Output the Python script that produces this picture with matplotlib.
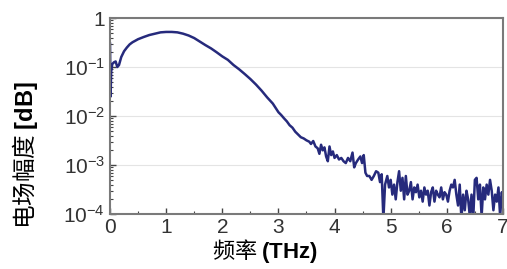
import numpy as np
import matplotlib
matplotlib.use("Agg")
import matplotlib.pyplot as plt
from matplotlib.ticker import FixedLocator, FuncFormatter, LogLocator, NullFormatter

plt.rcParams['font.family'] = ['Liberation Sans', 'Noto Sans CJK SC', 'DejaVu Sans']
plt.rcParams['mathtext.fontset'] = 'custom'
plt.rcParams['mathtext.rm'] = 'Liberation Sans'
plt.rcParams['mathtext.bf'] = 'Liberation Sans:bold'
plt.rcParams['mathtext.default'] = 'regular'

# spectrum (THz, field amplitude)
freq = [0.00, 0.01, 0.02, 0.04, 0.07, 0.10, 0.13, 0.16, 0.20, 0.25, 0.30, 0.35, 0.40,
        0.50, 0.60, 0.70, 0.80, 0.90, 1.00, 1.10, 1.20, 1.30, 1.40, 1.50, 1.60, 1.70,
        1.80, 1.90, 2.00, 2.10, 2.20, 2.30, 2.40, 2.50, 2.60, 2.70, 2.80, 2.90, 3.00,
        3.05, 3.10, 3.15, 3.20, 3.25, 3.30, 3.35, 3.40, 3.45, 3.50, 3.55, 3.58, 3.62,
        3.66, 3.70, 3.73, 3.76, 3.79, 3.82, 3.85, 3.88, 3.91, 3.94, 3.97, 4.00, 4.04,
        4.08, 4.12, 4.16, 4.20, 4.24, 4.28, 4.32, 4.35, 4.38, 4.42, 4.46, 4.49, 4.52,
        4.55, 4.58, 4.62, 4.66, 4.70, 4.74, 4.78, 4.81, 4.84, 4.87, 4.90, 4.94, 4.97,
        5.00, 5.03, 5.06, 5.09, 5.12, 5.15, 5.18, 5.21, 5.24, 5.27, 5.30, 5.33, 5.36,
        5.39, 5.42, 5.45, 5.48, 5.51, 5.54, 5.57, 5.60, 5.63, 5.66, 5.69, 5.72, 5.75,
        5.78, 5.81, 5.84, 5.87, 5.90, 5.93, 5.96, 5.99, 6.02, 6.05, 6.08, 6.11, 6.14,
        6.17, 6.20, 6.23, 6.26, 6.29, 6.32, 6.35, 6.38, 6.41, 6.44, 6.47, 6.50, 6.53,
        6.56, 6.59, 6.62, 6.65, 6.68, 6.71, 6.74, 6.77, 6.80, 6.83, 6.86, 6.89, 6.92,
        6.95, 6.98, 7.00]
amp = [0.30, 0.025, 0.08, 0.115, 0.125, 0.13, 0.10, 0.11, 0.16, 0.21, 0.25, 0.29, 0.32,
       0.37, 0.41, 0.45, 0.48, 0.51, 0.52, 0.52, 0.51, 0.48, 0.44, 0.39, 0.33, 0.28,
       0.24, 0.20, 0.165, 0.14, 0.11, 0.09, 0.072, 0.057, 0.044, 0.033, 0.024, 0.018, 0.012,
       0.0105, 0.0090, 0.0078, 0.0065, 0.0058, 0.0048, 0.0042, 0.0037, 0.0035, 0.0032, 0.0030, 0.0027, 0.0031,
       0.0024, 0.0022, 0.0017, 0.0026, 0.0020, 0.0023, 0.0015, 0.0012, 0.0024, 0.0016, 0.0019, 0.0014, 0.0016,
       0.0013, 0.0014, 0.0012, 0.0011, 0.0014, 0.0012, 0.0018, 0.0009, 0.0011, 0.0013, 0.0015, 0.0011, 0.0016,
       0.0007, 0.0006, 0.0006, 0.0005, 0.0006, 0.00075, 0.0007, 0.00045, 0.00065, 0.00008, 0.0004, 0.0006, 0.00035,
       0.0005, 0.00025, 0.0004, 0.0002, 0.00045, 0.00075, 0.0003, 0.00055, 0.0002, 0.0006, 0.00025, 0.0003, 0.00045,
       0.0002, 0.00035, 0.00028, 0.0004, 0.00022, 0.0003, 0.00018, 0.00035, 0.00025, 0.0003, 0.00015, 0.00028, 0.00035,
       0.00018, 0.0003, 0.00025, 0.00022, 0.00035, 0.0002, 0.00028, 0.00025, 0.00018, 0.0003, 0.0004, 0.00035, 0.0005,
       0.00025, 0.00015, 0.0004, 0.00008, 0.00025, 0.00012, 0.0003, 0.0002, 0.00009, 0.00025, 0.00008, 0.0005, 0.00055,
       0.0002, 0.0004, 0.00009, 0.00035, 0.0002, 0.0004, 0.00025, 0.0005, 0.0003, 0.00012, 0.00025, 0.00018, 0.00035,
       0.00009, 0.00028, 0.0002]

xticks = [0, 1, 2, 3, 4, 5, 6, 7]
yticks = [1e-4, 1e-3, 1e-2, 1e-1, 1]

fig = plt.figure(figsize=(5.07, 2.69), dpi=100)
ax = fig.add_axes([0.217, 0.204, 0.775, 0.729])

ax.plot(freq, amp, color='#262a7c', lw=1.8)

ax.set_yscale('log')
ax.set_xlim(0, 7)
ax.set_ylim(1e-4, 1)

ax.xaxis.set_major_locator(FixedLocator(xticks))
ax.xaxis.set_minor_locator(FixedLocator([0.5, 1.5, 2.5, 3.5, 4.5, 5.5, 6.5]))
ax.yaxis.set_major_locator(FixedLocator(yticks))
ax.yaxis.set_minor_locator(LogLocator(base=10, subs=np.arange(2, 10)))
ax.yaxis.set_minor_formatter(NullFormatter())


def fmt(v, pos):
    if v >= 1:
        return '1'
    return r'$10^{%d}$' % int(round(np.log10(v)))


ax.yaxis.set_major_formatter(FuncFormatter(fmt))

ax.grid(axis='y', which='major', color='#e4e4e4', lw=0.8)
ax.set_axisbelow(True)

for s in ax.spines.values():
    s.set_color('#7a7a7a')
    s.set_linewidth(1.5)

ax.tick_params(which='both', direction='in', color='#444444', labelcolor='#333333',
               labelsize=15)
ax.tick_params(which='major', length=4, width=1)
ax.tick_params(which='minor', length=2.5, width=0.8)
ax.tick_params(axis='x', pad=3)

ax.set_xlabel(r'频率 $\mathbf{(THz)}$', fontsize=16,
              family=['Noto Sans CJK SC', 'DejaVu Sans'])
ax.set_ylabel(r'电场幅度 $\mathbf{[dB]}$', fontsize=17,
              family=['Noto Sans CJK SC', 'DejaVu Sans'])
ax.xaxis.set_label_coords(0.395, -0.115)
ax.yaxis.set_label_coords(-0.178, 0.30)

fig.savefig('out.png', dpi=100)
